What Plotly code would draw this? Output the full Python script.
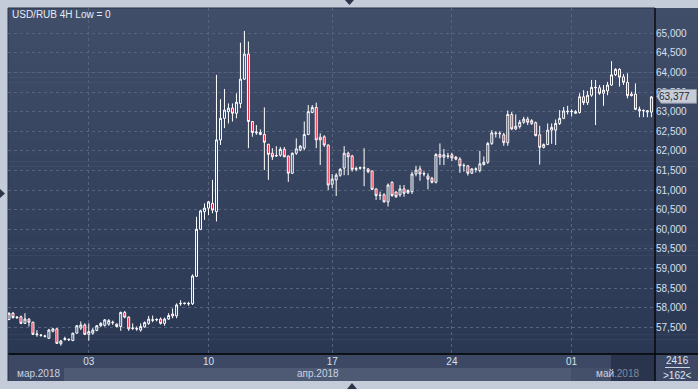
import plotly.graph_objects as go

# ---------------- data (USD/RUB, 4H candles) ----------------
opens = [57.70, 57.86, 57.74, 57.77, 57.60, 57.71, 57.63, 57.31, 57.29, 57.28,
         57.22, 57.40, 57.46, 57.08, 57.19, 57.18, 57.16, 57.35, 57.48, 57.56,
         57.32, 57.35, 57.42, 57.54, 57.55, 57.58, 57.63, 57.58, 57.52, 57.88,
         57.76, 57.47, 57.47, 57.43, 57.51, 57.60, 57.68, 57.69, 57.71, 57.60,
         57.71, 57.84, 57.79, 58.10, 58.11, 58.11, 58.10, 58.80, 60.00, 60.45,
         60.54, 60.66, 60.45, 62.28, 62.83, 63.00, 63.09, 62.96, 63.21, 63.83,
         64.47, 62.75, 62.46, 62.47, 62.42, 62.17, 61.94, 61.87, 61.89, 62.04,
         61.87, 61.43, 61.94, 62.02, 62.07, 62.42, 62.98, 63.11, 62.35, 62.36,
         62.15, 61.15, 61.26, 61.38, 61.56, 61.94, 61.87, 61.53, 61.56, 61.56,
         61.54, 61.49, 61.03, 60.86, 60.88, 60.70, 61.20, 60.95, 60.88, 61.03,
         60.93, 60.96, 61.41, 61.54, 61.41, 61.36, 61.30, 61.20, 61.91, 61.84,
         61.86, 61.90, 61.84, 61.79, 61.62, 61.62, 61.43, 61.53, 61.50, 61.65,
         61.71, 62.19, 62.44, 62.45, 62.41, 62.21, 62.93, 62.56, 62.62, 62.73,
         62.81, 62.70, 62.72, 62.41, 62.09, 62.16, 62.53, 62.53, 62.70, 62.83,
         63.00, 63.00, 62.96, 62.98, 63.38, 63.23, 63.42, 63.61, 63.61, 63.47,
         63.53, 63.68, 63.94, 64.08, 63.89, 63.75, 63.45, 63.45, 63.02, 63.02,
         62.99, 62.99]
highs = [57.88, 57.89, 57.78, 57.80, 57.86, 57.73, 57.64, 57.43, 57.33, 57.31,
         57.46, 57.48, 57.48, 57.18, 57.26, 57.22, 57.36, 57.56, 57.65, 57.60,
         57.60, 57.48, 57.56, 57.63, 57.71, 57.71, 57.67, 57.60, 57.90, 57.92,
         57.78, 57.60, 57.52, 57.60, 57.65, 57.79, 57.80, 57.73, 57.75, 57.75,
         57.86, 57.98, 58.11, 58.19, 58.13, 58.15, 58.85, 60.32, 60.49, 60.66,
         60.72, 61.26, 63.94, 63.32, 63.58, 63.21, 63.21, 63.47, 64.76, 65.06,
         64.79, 62.75, 62.66, 62.55, 63.11, 62.17, 62.07, 62.12, 62.10, 62.10,
         61.88, 61.96, 62.32, 62.15, 62.75, 63.17, 63.17, 63.23, 62.45, 62.40,
         62.16, 61.41, 61.43, 61.56, 62.12, 61.98, 61.90, 61.60, 61.60, 62.07,
         61.56, 61.49, 61.04, 60.96, 60.92, 61.17, 61.22, 60.97, 61.13, 61.13,
         61.02, 61.47, 61.62, 61.62, 61.48, 61.43, 61.34, 61.94, 62.19, 62.05,
         61.95, 61.95, 61.87, 61.84, 61.68, 61.64, 61.56, 61.58, 62.00, 61.86,
         62.23, 62.53, 62.50, 62.50, 62.46, 63.03, 63.00, 62.93, 62.79, 62.87,
         62.87, 62.81, 62.75, 62.64, 62.19, 62.70, 62.70, 62.80, 63.04, 63.12,
         63.15, 63.06, 63.04, 63.47, 63.55, 63.53, 63.81, 63.81, 63.68, 63.68,
         63.76, 64.29, 64.11, 64.11, 63.96, 63.98, 63.51, 63.72, 63.13, 63.06,
         63.04, 63.40]
lows = [57.68, 57.72, 57.72, 57.58, 57.59, 57.52, 57.30, 57.26, 57.26, 57.24,
        57.20, 57.37, 57.08, 57.03, 57.16, 57.15, 57.15, 57.34, 57.43, 57.30,
        57.16, 57.31, 57.40, 57.51, 57.52, 57.54, 57.56, 57.50, 57.41, 57.73,
        57.41, 57.43, 57.41, 57.39, 57.49, 57.56, 57.63, 57.65, 57.57, 57.54,
        57.69, 57.73, 57.73, 58.05, 58.08, 58.05, 58.07, 58.79, 59.98, 60.24,
        60.36, 60.41, 60.20, 62.15, 62.58, 62.70, 62.75, 62.83, 63.09, 63.81,
        62.07, 62.36, 62.41, 62.40, 61.51, 61.26, 61.77, 61.85, 61.85, 61.84,
        61.21, 61.41, 61.90, 61.99, 62.02, 62.40, 62.96, 62.07, 61.64, 62.10,
        61.00, 61.05, 60.85, 61.34, 61.38, 61.38, 61.47, 61.48, 61.52, 61.10,
        61.43, 61.00, 60.75, 60.75, 60.68, 60.58, 60.83, 60.80, 60.83, 60.83,
        60.90, 60.90, 61.35, 61.24, 61.35, 61.02, 61.17, 61.17, 61.64, 61.64,
        61.80, 61.74, 61.76, 61.44, 61.47, 61.37, 61.41, 61.45, 61.45, 61.63,
        61.67, 62.15, 62.34, 62.32, 62.13, 62.13, 62.53, 62.53, 62.57, 62.69,
        62.66, 62.66, 62.37, 61.65, 62.06, 62.15, 62.18, 62.15, 62.66, 62.81,
        62.93, 62.88, 62.94, 62.95, 63.17, 63.17, 63.38, 62.66, 63.43, 63.15,
        63.42, 63.66, 63.91, 63.64, 63.68, 63.34, 63.39, 63.04, 62.86, 62.86,
        62.86, 62.86]
closes = [57.86, 57.75, 57.76, 57.60, 57.71, 57.63, 57.32, 57.33, 57.30, 57.27,
          57.43, 57.46, 57.09, 57.15, 57.21, 57.19, 57.35, 57.54, 57.56, 57.32,
          57.39, 57.43, 57.54, 57.60, 57.69, 57.67, 57.62, 57.52, 57.88, 57.76,
          57.46, 57.48, 57.46, 57.52, 57.62, 57.71, 57.69, 57.70, 57.60, 57.71,
          57.80, 57.79, 58.07, 58.11, 58.115, 58.10, 58.81, 60.00, 60.47, 60.54,
          60.70, 60.49, 62.28, 62.83, 63.04, 63.09, 62.96, 63.24, 63.83, 64.47,
          62.75, 62.47, 62.48, 62.42, 62.22, 61.91, 61.85, 61.88, 62.04, 61.85,
          61.43, 61.94, 62.05, 62.12, 62.42, 63.00, 63.11, 62.28, 62.28, 62.15,
          61.13, 61.28, 61.38, 61.53, 61.94, 61.85, 61.53, 61.55, 61.57, 61.57,
          61.47, 61.02, 60.86, 60.87, 60.70, 61.13, 60.86, 60.83, 61.03, 60.92,
          60.99, 61.41, 61.51, 61.41, 61.42, 61.28, 61.20, 61.91, 61.84, 61.90,
          61.87, 61.82, 61.79, 61.62, 61.63, 61.43, 61.54, 61.54, 61.67, 61.71,
          62.19, 62.46, 62.45, 62.44, 62.21, 62.93, 62.56, 62.63, 62.73, 62.81,
          62.73, 62.77, 62.39, 62.09, 62.16, 62.53, 62.60, 62.70, 62.83, 63.02,
          63.01, 63.01, 63.00, 63.38, 63.23, 63.42, 63.62, 63.62, 63.47, 63.55,
          63.68, 63.94, 64.08, 63.88, 63.75, 63.41, 63.41, 63.06, 63.06, 63.03,
          63.02, 63.377]
candle_idx = list(range(len(opens)))

week_tick_idx = [20, 50, 81, 111, 141]
week_tick_labels = ["03", "10", "17", "24", "01"]
price_ticks = [57.5, 58.0, 58.5, 59.0, 59.5, 60.0, 60.5, 61.0, 61.5, 62.0,
               62.5, 63.0, 63.5, 64.0, 64.5, 65.0]
price_tick_labels = ["57,500", "58,000", "58,500", "59,000", "59,500", "60,000",
                     "60,500", "61,000", "61,500", "62,000", "62,500", "63,000",
                     "63,500", "64,000", "64,500", "65,000"]
month_labels = ["мар.2018", "апр.2018", "май"]
title_text = "USD/RUB 4H Low = 0"
last_price_text = "63,377"
bars_total_text = "2416"
bars_visible_text = ">162<"

# ---------------- geometry helpers (pixels -> paper) ----------------
W, H = 698, 389
L, R, T, B = 8, 655, 8, 354
FONT = "Liberation Sans"
FRAME = "#c3ccd8"


def px(x):
    return (x - L) / (R - L)


def py(y):
    return (B - y) / (B - T)


def mix(c1, c2, t):
    a = [int(c1[i:i + 2], 16) for i in (1, 3, 5)]
    b = [int(c2[i:i + 2], 16) for i in (1, 3, 5)]
    return "#%02x%02x%02x" % tuple(round(a[k] + (b[k] - a[k]) * t) for k in range(3))


def rect(x0, y0, x1, y1, color, layer="below"):
    return dict(type="rect", xref="paper", yref="paper", x0=px(x0), x1=px(x1),
                y0=py(y1), y1=py(y0), fillcolor=color, line=dict(width=0), layer=layer)


def line(x0, y0, x1, y1, color, width=1, layer="below"):
    return dict(type="line", xref="paper", yref="paper", x0=px(x0), x1=px(x1),
                y0=py(y0), y1=py(y1), line=dict(color=color, width=width), layer=layer)


def poly(points, color, layer="below", lc=None):
    d = "M " + " L ".join("%f,%f" % (px(a), py(b)) for a, b in points) + " Z"
    return dict(type="path", xref="paper", yref="paper", path=d, fillcolor=color,
                line=dict(color=lc or color, width=1 if lc else 0), layer=layer)


shapes = []
# gradient background (plot + right scale)
N = 70
top_c, bot_c = "#414e6a", "#2b3853"
for i in range(N):
    y0 = T + (B - T) * i / N
    y1 = T + (B - T) * (i + 1) / N + 0.6
    shapes.append(rect(L, y0, W + 2, y1, mix(top_c, bot_c, (i + 0.5) / N)))
# bottom time scale
shapes.append(rect(L, B, W + 2, 381, "#3d4964"))
shapes.append(rect(64, 368, 571, 381, "#4e5a74"))
shapes.append(rect(571, 368, 611, 381, "#44506a"))
shapes.append(rect(611, 355, 655, 381, "#2a354d"))
# separators
shapes.append(line(L, B, W + 2, B, "#000000", 1.3))
shapes.append(line(R, T, R, 381, "#000000", 1.3))
shapes.append(line(L, T, R, T, "#283247", 1))
shapes.append(line(L, T, L, 381, "#283247", 1))
shapes.append(line(665, 367.5, 690, 367.5, "#c9d4e4", 1))
# frame arrows
shapes.append(poly([(345, 0), (354, 0), (349.5, 5)], "#2b3549"))
shapes.append(poly([(0, 189), (5, 193.5), (0, 198)], "#2b3549"))
shapes.append(poly([(347, 389), (357, 389), (352, 383)], "#2b3549"))
# last price box
shapes.append(poly([(656.5, 96.3), (661, 89.5), (696.5, 89.5), (696.5, 103.2), (661, 103.2)],
                   "#c7ccd5", layer="above", lc="#8d97a8"))

fig = go.Figure()
fig.add_trace(go.Candlestick(
    x=candle_idx, open=opens, high=highs, low=lows, close=closes,
    increasing=dict(line=dict(color="#ffffff", width=1), fillcolor="#34415d"),
    decreasing=dict(line=dict(color="#ffffff", width=1), fillcolor="#e3102f"),
    whiskerwidth=0, hoverinfo="skip", showlegend=False,
))

annotations = [
    dict(text=title_text, x=px(10), y=py(14), xref="paper", yref="paper",
         xanchor="left", yanchor="middle", showarrow=False,
         font=dict(family=FONT, size=10, color="#e6ebf3")),
    dict(text=month_labels[0], x=px(38), y=py(373.5), xref="paper", yref="paper",
         xanchor="center", yanchor="middle", showarrow=False,
         font=dict(family=FONT, size=10, color="#c9d3e2")),
    dict(text=month_labels[1], x=px(318), y=py(373.5), xref="paper", yref="paper",
         xanchor="center", yanchor="middle", showarrow=False,
         font=dict(family=FONT, size=10, color="#c9d3e2")),
    dict(text=month_labels[2] + "<span style='color:#7f8aa0'>.2018</span>",
         x=px(594), y=py(373.5), xref="paper", yref="paper",
         xanchor="left", yanchor="middle", showarrow=False,
         font=dict(family=FONT, size=10, color="#c9d3e2")),
    dict(text=bars_total_text, x=px(677), y=py(360), xref="paper", yref="paper",
         xanchor="center", yanchor="middle", showarrow=False,
         font=dict(family=FONT, size=10, color="#dfe7f3")),
    dict(text=bars_visible_text, x=px(677), y=py(375), xref="paper", yref="paper",
         xanchor="center", yanchor="middle", showarrow=False,
         font=dict(family=FONT, size=10, color="#dfe7f3")),
    dict(text=last_price_text, x=px(674), y=py(96.3), xref="paper", yref="paper",
         xanchor="center", yanchor="middle", showarrow=False,
         font=dict(family=FONT, size=10, color="#1b2740")),
]

grid_c = "#56637d"
fig.update_layout(
    width=W, height=H,
    margin=dict(l=L, r=W - R, t=T, b=H - B, pad=0),
    paper_bgcolor=FRAME,
    plot_bgcolor="rgba(0,0,0,0)",
    shapes=shapes,
    annotations=annotations,
    showlegend=False,
    hovermode=False,
    xaxis=dict(
        range=[-0.25, 161.9], rangeslider=dict(visible=False),
        tickmode="array", tickvals=week_tick_idx, ticktext=week_tick_labels,
        showgrid=True, gridcolor=grid_c, griddash="3px,3px", gridwidth=1,
        zeroline=False, showline=False, ticks="", ticklen=0,
        tickfont=dict(family=FONT, size=10, color="#d6e0ee"),
        fixedrange=True,
    ),
    yaxis=dict(
        side="right", range=[56.819, 65.645],
        tickmode="array", tickvals=price_ticks, ticktext=price_tick_labels,
        showgrid=True, gridcolor=grid_c, griddash="3px,3px", gridwidth=1,
        zeroline=False, showline=False, ticks="", ticklen=0,
        tickfont=dict(family=FONT, size=10, color="#d6e0ee"),
        fixedrange=True,
    ),
)

page_fix = ("document.body.style.margin='0';document.body.style.padding='0';"
            "document.body.style.overflow='hidden';"
            "document.body.style.background='" + FRAME + "';")
fig.write_html("out.html", post_script=page_fix, config={"displayModeBar": False})
